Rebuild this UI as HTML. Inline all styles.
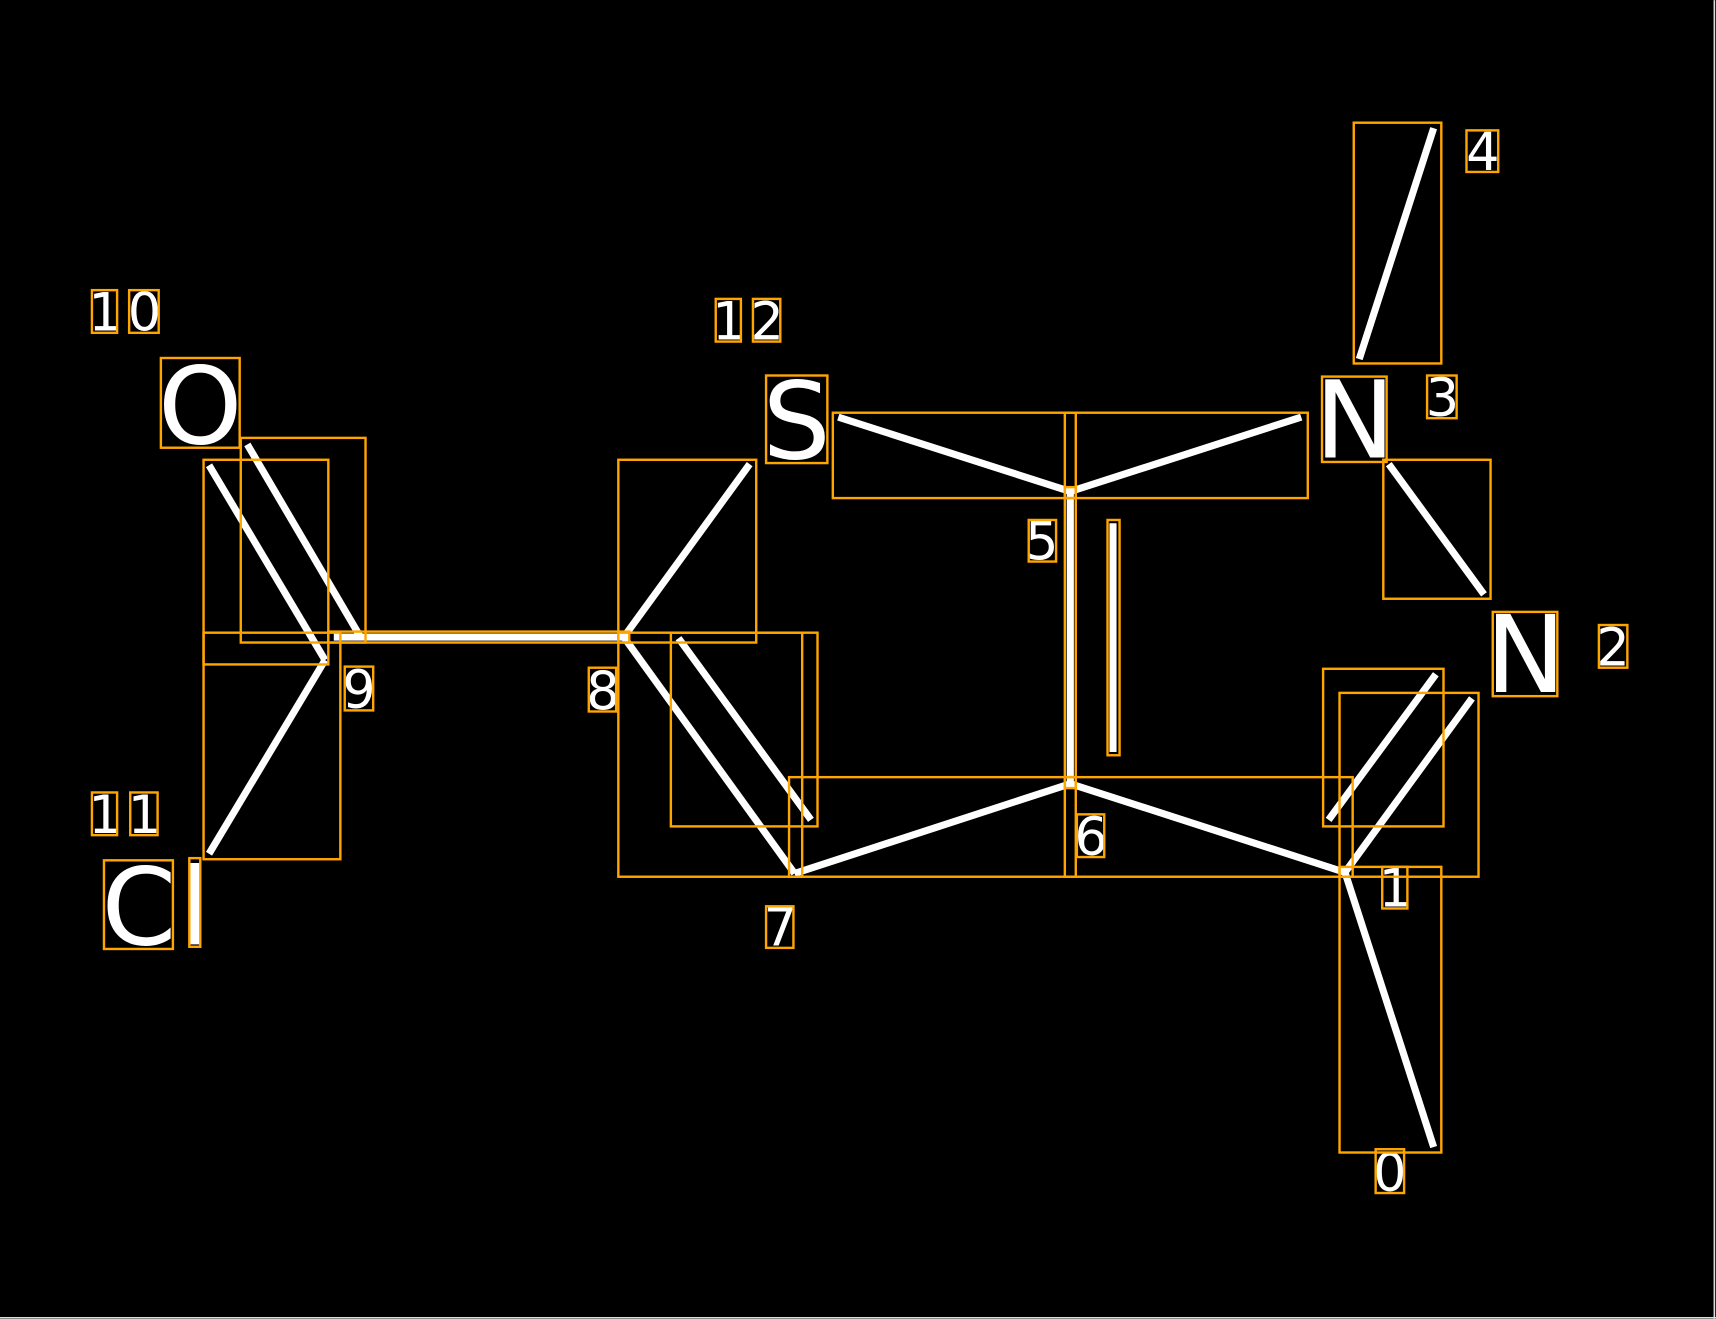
<!DOCTYPE html>
<html><head><meta charset="utf-8"><style>html,body{margin:0;padding:0;background:#000}svg{display:block}</style></head>
<body>
<svg width="1716" height="1319" viewBox="0 0 1568 1205" xmlns="http://www.w3.org/2000/svg">
<rect x="0" y="0" width="1568" height="1205" fill="#000"/>
<line x1="1566.5" y1="0" x2="1566.5" y2="1205" stroke="#ddd" stroke-width="1.5"/>
<line x1="0" y1="1204" x2="1568" y2="1204" stroke="#ddd" stroke-width="1.5"/>
<g stroke="#fff" stroke-width="6.5" stroke-linecap="butt" fill="none">
<line x1="1310" y1="117" x2="1242" y2="328"/>
<line x1="1269" y1="424" x2="1356" y2="543"/>
<line x1="766" y1="381" x2="978" y2="449"/>
<line x1="978" y1="449" x2="1189" y2="381"/>
<line x1="978" y1="449" x2="978" y2="716"/>
<line x1="1017" y1="478" x2="1017" y2="687"/>
<line x1="978" y1="716" x2="726" y2="798"/>
<line x1="978" y1="716" x2="1229" y2="797"/>
<line x1="1214" y1="749" x2="1312" y2="616"/>
<line x1="1229" y1="797" x2="1345" y2="638"/>
<line x1="1229" y1="797" x2="1310" y2="1048"/>
<line x1="726" y1="798" x2="570" y2="582"/>
<line x1="620" y1="583" x2="741" y2="749"/>
<line x1="570" y1="582" x2="685" y2="424"/>
<line x1="305" y1="582" x2="570" y2="582"/>
<line x1="191" y1="425" x2="297" y2="603"/>
<line x1="226" y1="406" x2="330" y2="583"/>
<line x1="297" y1="603" x2="191" y2="780"/>
</g>
<g fill="#fff" font-family="DejaVu Sans, Liberation Sans, sans-serif" text-anchor="middle">
<text x="183" y="405" font-size="98">O</text>
<text x="728" y="419" font-size="98">S</text>
<text x="1238" y="418" font-size="98">N</text>
<text x="1394" y="632" font-size="98">N</text>
<text x="127" y="863" font-size="98">C</text>
<text x="178" y="863" font-size="98">l</text>
<g font-size="48">
<text x="1355" y="155">4</text>
<text x="1318" y="380">3</text>
<text x="1474" y="608">2</text>
<text x="952" y="511">5</text>
<text x="997" y="781">6</text>
<text x="1275" y="828">1</text>
<text x="1270" y="1088">0</text>
<text x="713" y="864">7</text>
<text x="551" y="648">8</text>
<text x="328" y="647">9</text>
<text x="96" y="302">1</text><text x="132" y="302">0</text>
<text x="666" y="310">1</text><text x="701" y="310">2</text>
<text x="96" y="761">1</text><text x="132" y="761">1</text>
</g>
</g>
<g stroke="#FFA500" stroke-width="2.2" fill="none">
<rect x="1237" y="112" width="80" height="220"/>
<rect x="1340" y="119" width="29" height="38"/>
<rect x="1208" y="344" width="59" height="78"/>
<rect x="1304" y="343" width="27" height="39"/>
<rect x="1264" y="420" width="98" height="127"/>
<rect x="1364" y="559" width="59" height="77"/>
<rect x="1461" y="571" width="26" height="39"/>
<rect x="761" y="377" width="222" height="78"/>
<rect x="973" y="377" width="222" height="78"/>
<rect x="940" y="475" width="25" height="38"/>
<rect x="1012" y="475" width="11" height="215"/>
<rect x="973" y="445" width="10" height="275"/>
<rect x="721" y="710" width="262" height="91"/>
<rect x="973" y="710" width="263" height="91"/>
<rect x="984" y="744" width="25" height="39"/>
<rect x="1209" y="611" width="110" height="144"/>
<rect x="1224" y="633" width="127" height="168"/>
<rect x="1263" y="792" width="23" height="38"/>
<rect x="1224" y="792" width="93" height="261"/>
<rect x="1257" y="1050" width="26" height="40"/>
<rect x="700" y="828" width="25" height="38"/>
<rect x="565" y="578" width="168" height="223"/>
<rect x="613" y="578" width="134" height="177"/>
<rect x="565" y="420" width="126" height="167"/>
<rect x="700" y="343" width="56" height="80"/>
<rect x="654" y="273" width="23" height="39"/>
<rect x="688" y="273" width="25" height="39"/>
<rect x="538" y="610" width="25" height="40"/>
<rect x="300" y="577" width="275" height="10"/>
<rect x="315" y="609" width="26" height="40"/>
<rect x="186" y="420" width="114" height="187"/>
<rect x="220" y="400" width="114" height="187"/>
<rect x="147" y="327" width="72" height="82"/>
<rect x="84" y="265" width="23" height="39"/>
<rect x="118" y="265" width="27" height="39"/>
<rect x="186" y="578" width="125" height="207"/>
<rect x="84" y="724" width="23" height="39"/>
<rect x="119" y="724" width="25" height="39"/>
<rect x="95" y="786" width="63" height="81"/>
<rect x="173" y="784" width="10" height="81"/>
</g>
</svg>
</body></html>
